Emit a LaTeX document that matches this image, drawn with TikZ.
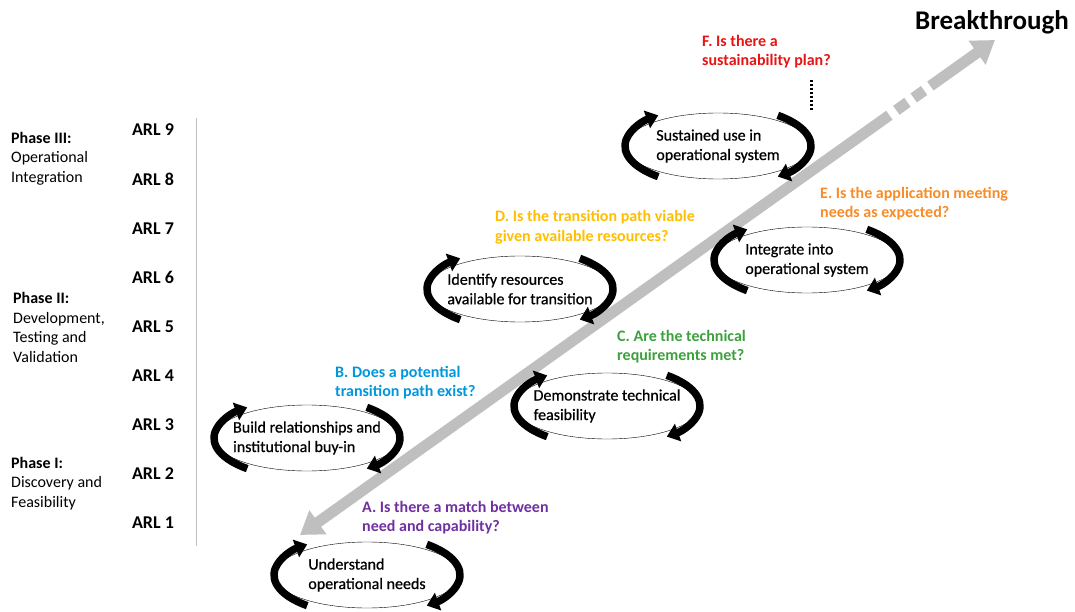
\documentclass[tikz,border=0pt]{standalone}
\usepackage{fontspec}
\setmainfont{Carlito}
\usepackage{tikz}
\usetikzlibrary{shapes.geometric,arrows.meta,positioning,calc}
\definecolor{arlpurple}{RGB}{112,48,160}
\definecolor{arlblue}{RGB}{0,150,220}
\definecolor{arlgreen}{RGB}{60,160,60}
\definecolor{arlyellow}{RGB}{255,190,0}
\definecolor{arlorange}{RGB}{247,140,40}
\definecolor{arlred}{RGB}{230,20,20}
\definecolor{arlgrey}{RGB}{191,191,191}

\begin{document}
\begin{tikzpicture}[
    x=1pt, y=1pt,
    node distance=49.1pt,
    arl/.style={font=\fontsize{18pt}{20pt}\selectfont\bfseries, inner sep=0pt},
    phasetext/.style={font=\fontsize{16pt}{19.5pt}\selectfont, align=left, anchor=west, inner sep=0pt},
    stage/.style={ellipse, draw, thin, fill=white, minimum width=186pt, minimum height=66pt, inner xsep=-12pt, inner ysep=0pt, align=left, font=\fontsize{16pt}{19.5pt}\selectfont\addfontfeatures{FakeBold=0.7}},
    question/.style={align=left, anchor=west, inner sep=0pt, font=\fontsize{16pt}{19.5pt}\selectfont\bfseries},
    cyclearc/.style={line width=7.5pt, -{Triangle[width=18pt,length=12pt]}},
    bigshaft/.style={line width=11pt, draw=arlgrey},
    bighead/.tip={Triangle[width=28pt,length=22pt]}
]
\useasboundingbox (0,0) rectangle (1075,611);

% ARL scale
\node[arl] (arl9) at (153,481) {ARL 9};
\node[arl, below of=arl9] (arl8) {ARL 8};
\node[arl, below of=arl8] (arl7) {ARL 7};
\node[arl, below of=arl7] (arl6) {ARL 6};
\node[arl, below of=arl6] (arl5) {ARL 5};
\node[arl, below of=arl5] (arl4) {ARL 4};
\node[arl, below of=arl4] (arl3) {ARL 3};
\node[arl, below of=arl3] (arl2) {ARL 2};
\node[arl, below of=arl2] (arl1) {ARL 1};
\draw[gray!50, line width=0.8pt] (196,493) -- (196,65);

% Phases
\node[phasetext] (phase3) at (11,452.5) {\textbf{Phase III:}\\Operational\\Integration};
\node[phasetext] (phase2) at (13,283.5) {\textbf{Phase II:}\\Development,\\Testing and\\Validation};
\node[phasetext] (phase1) at (11,127.5) {\textbf{Phase I:}\\Discovery and\\Feasibility};

% Breakthrough arrow
\coordinate (tail) at (300,76);
\coordinate (tip) at (995,571);
\draw[bigshaft, bighead-] (tail) -- ($(tail)!0.848!(tip)$);
\draw[bigshaft] ($(tail)!0.858!(tip)$) -- ($(tail)!0.874!(tip)$);
\draw[bigshaft] ($(tail)!0.883!(tip)$) -- ($(tail)!0.898!(tip)$);
\draw[bigshaft, -bighead] ($(tail)!0.907!(tip)$) -- (tip);
\node[font=\fontsize{27pt}{30pt}\selectfont\bfseries, inner sep=0pt] (brk) at (992,589) {Breakthrough};

% Stages
\node[stage] (need) at (367,36) {Understand\\operational needs};
\node[stage] (build) at (307,173) {Build relationships and\\institutional buy-in};
\node[stage] (demo) at (607,205) {Demonstrate technical\\feasibility};
\node[stage] (ident) at (520,322) {Identify resources\\available for transition};
\node[stage] (integ) at (807,351) {Integrate into\\operational system};
\node[stage] (sust) at (718,465) {Sustained use in\\operational system};

% Cycle arrows
\draw[cyclearc] (need.center) ++(230:93pt and 40pt) arc[start angle=230, end angle=130, x radius=93pt, y radius=40pt];
\draw[cyclearc] (need.center) ++(50:93pt and 40pt) arc[start angle=50, end angle=-50, x radius=93pt, y radius=40pt];
\draw[cyclearc] (build.center) ++(230:93pt and 40pt) arc[start angle=230, end angle=130, x radius=93pt, y radius=40pt];
\draw[cyclearc] (build.center) ++(50:93pt and 40pt) arc[start angle=50, end angle=-50, x radius=93pt, y radius=40pt];
\draw[cyclearc] (demo.center) ++(230:93pt and 40pt) arc[start angle=230, end angle=130, x radius=93pt, y radius=40pt];
\draw[cyclearc] (demo.center) ++(50:93pt and 40pt) arc[start angle=50, end angle=-50, x radius=93pt, y radius=40pt];
\draw[cyclearc] (ident.center) ++(230:93pt and 40pt) arc[start angle=230, end angle=130, x radius=93pt, y radius=40pt];
\draw[cyclearc] (ident.center) ++(50:93pt and 40pt) arc[start angle=50, end angle=-50, x radius=93pt, y radius=40pt];
\draw[cyclearc] (integ.center) ++(230:93pt and 40pt) arc[start angle=230, end angle=130, x radius=93pt, y radius=40pt];
\draw[cyclearc] (integ.center) ++(50:93pt and 40pt) arc[start angle=50, end angle=-50, x radius=93pt, y radius=40pt];
\draw[cyclearc] (sust.center) ++(230:93pt and 40pt) arc[start angle=230, end angle=130, x radius=93pt, y radius=40pt];
\draw[cyclearc] (sust.center) ++(50:93pt and 40pt) arc[start angle=50, end angle=-50, x radius=93pt, y radius=40pt];

% Questions
\node[question, text=arlpurple] (qa) at (362,93.5) {A. Is there a match between\\need and capability?};
\node[question, text=arlblue] (qb) at (335,228.5) {B. Does a potential\\transition path exist?};
\node[question, text=arlgreen] (qc) at (617,264.5) {C. Are the technical\\requirements met?};
\node[question, text=arlyellow] (qd) at (495,384) {D. Is the transition path viable\\given available resources?};
\node[question, text=arlorange] (qe) at (820,407.5) {E. Is the application meeting\\needs as expected?};
\node[question, text=arlred] (qf) at (702,559.5) {F. Is there a\\sustainability plan?};

% Dotted link under F
\coordinate (fdot) at (811,531);
\coordinate (fend) at (811,499);
\draw[line width=3pt, dash pattern=on 2.5pt off 1.5pt] (fdot) -- (fend);

\end{tikzpicture}
\end{document}
